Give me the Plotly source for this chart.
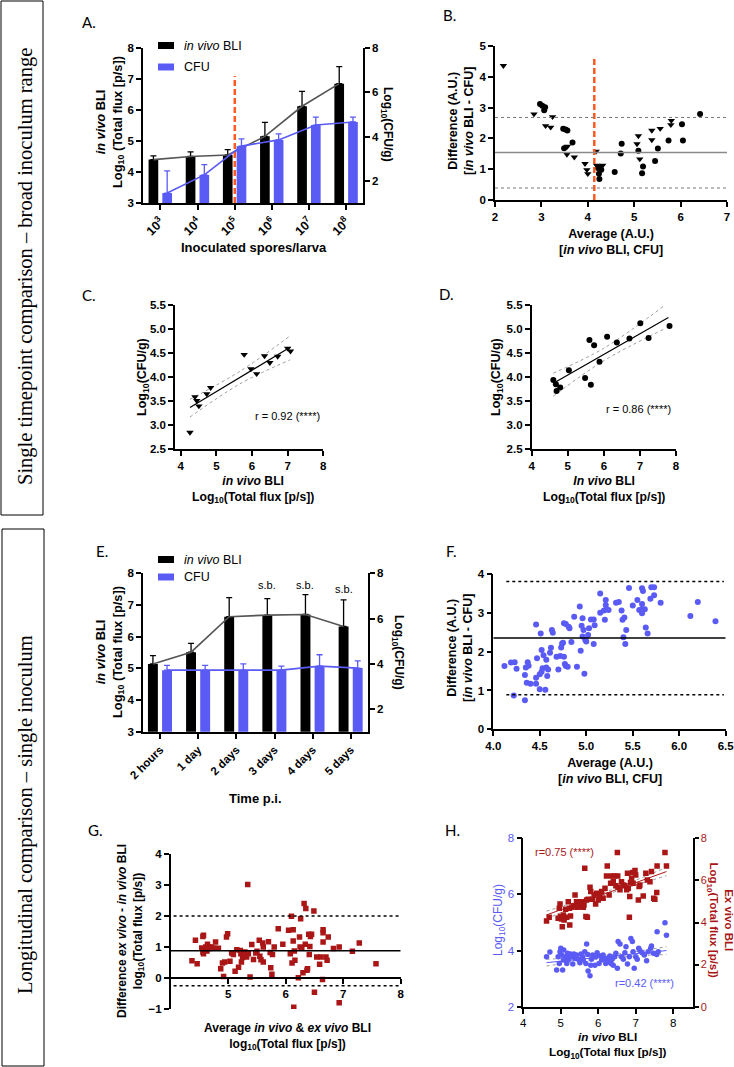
import plotly.graph_objects as go

W, H = 734, 1067
FONT = "Liberation Sans, Arial, sans-serif"
BLUE = "#5A5AF5"
RED = "#AA1616"
ORANGE = "#FF5A1F"
GRAY = "#555555"

# ---------------- DATA ----------------
# Panel A: bars per inoculum
A_categories = ["10<sup>3</sup>", "10<sup>4</sup>", "10<sup>5</sup>", "10<sup>6</sup>", "10<sup>7</sup>", "10<sup>8</sup>"]
A_bli = [4.40, 4.50, 4.55, 5.15, 6.12, 6.85]
A_bli_err = [0.12, 0.15, 0.17, 0.45, 0.48, 0.55]
A_cfu = [1.45, 2.27, 3.57, 3.85, 4.52, 4.66]
A_cfu_err = [1.00, 0.46, 0.33, 0.27, 0.36, 0.22]
A_threshold_cat = "10<sup>5</sup>"
A_threshold_top = 7.1

# Panel B: Bland-Altman, broad inoculum
B_tri_x = [2.18, 2.84, 3.09, 3.20, 3.24, 3.55, 3.56, 3.71, 3.94, 3.98, 4.00, 4.18, 4.19, 4.24, 4.28, 4.32,
           5.06, 5.09, 5.12, 5.38, 5.38, 5.56, 5.79, 5.80]
B_tri_y = [4.36, 2.79, 2.41, 2.36, 2.70, 1.48, 1.74, 1.39, 1.18, 0.98, 0.85, 1.58, 1.12, 1.05, 1.08, 1.12,
           1.82, 2.08, 1.33, 2.26, 1.95, 2.32, 2.44, 2.58]
B_circ_x = [2.97, 3.02, 3.08, 3.06, 3.47, 3.52, 3.56, 3.49, 3.67, 4.22, 4.24, 4.25, 4.29, 4.58, 4.71, 4.73,
            5.09, 5.17, 5.19, 5.45, 5.51, 5.74, 6.03, 6.05, 6.42]
B_circ_y = [3.12, 3.06, 3.01, 2.91, 2.31, 2.29, 2.26, 1.68, 1.87, 1.04, 0.85, 0.68, 0.98, 0.91, 1.51, 1.83,
            1.60, 0.87, 1.09, 1.27, 1.67, 1.93, 2.46, 1.93, 2.79]
B_bias = 1.54
B_loa = [0.39, 2.68]
B_threshold = 4.14
B_threshold_top = 4.63

# Panel C: correlation (triangles)
C_x = [4.26, 4.40, 4.45, 4.51, 4.73, 4.84, 5.78, 5.97, 6.13, 6.35, 6.50, 6.72, 7.00, 7.08]
C_y = [2.85, 3.59, 3.51, 3.40, 3.65, 3.78, 4.47, 4.17, 4.07, 4.44, 4.30, 4.43, 4.60, 4.54]
C_fit_x = [4.26, 7.07]
C_fit_y = [3.37, 4.62]
C_ci_x = [4.26, 5.66, 7.07]
C_ci_lo = [3.17, 3.86, 4.36]
C_ci_hi = [3.54, 4.12, 4.86]
C_r = "r = 0.92 (****)"

# Panel D: correlation (circles)
D_x = [4.60, 4.67, 4.69, 4.79, 5.03, 5.48, 5.60, 5.64, 5.73, 5.88, 6.09, 6.36, 6.71, 7.01, 7.24, 7.82]
D_y = [3.94, 3.85, 3.71, 3.78, 4.14, 3.98, 4.77, 3.84, 4.66, 4.32, 4.84, 4.72, 4.80, 5.12, 4.81, 5.06]
D_fit_x = [4.65, 7.79]
D_fit_y = [3.89, 5.24]
D_ci_x = [4.60, 6.00, 7.70]
D_ci_lo = [3.60, 4.34, 5.01]
D_ci_hi = [4.08, 4.60, 5.50]
D_r = "r = 0.86 (****)"

# Panel E: bars over time
E_categories = ["2 hours", "1 day", "2 days", "3 days", "4 days", "5 days"]
E_bli = [5.14, 5.51, 6.63, 6.68, 6.70, 6.32]
E_bli_err = [0.26, 0.28, 0.60, 0.52, 0.63, 0.84]
E_cfu = [3.72, 3.72, 3.72, 3.72, 3.90, 3.81]
E_cfu_err = [0.21, 0.21, 0.28, 0.18, 0.50, 0.32]
E_sb = ["", "", "", "s.b.", "s.b.", "s.b."]
E_sb_y = [0, 0, 0, 7.63, 7.63, 7.50]

# Panel F: Bland-Altman, single inoculum
F_avg = [4.12, 4.19, 4.23, 4.25, 4.22, 4.34, 4.34, 4.35, 4.37, 4.38, 4.36, 4.40, 4.46, 4.46, 4.46, 4.47,
         4.50, 4.50, 4.51, 4.52, 4.52, 4.53, 4.54, 4.56, 4.57, 4.57, 4.58, 4.59, 4.61, 4.62, 4.63, 4.64,
         4.68, 4.70, 4.72, 4.73, 4.74, 4.75, 4.76, 4.76, 4.78, 4.77, 4.78, 4.80, 4.81, 4.82, 4.84, 4.87,
         4.90, 4.93, 4.94, 4.95, 4.96, 4.96, 4.97, 4.98, 4.99, 5.00, 5.02, 5.03, 5.05, 5.08, 5.08, 5.09,
         5.15, 5.15, 5.19, 5.20, 5.21, 5.21, 5.22, 5.24, 5.32, 5.35, 5.38, 5.39, 5.40, 5.41, 5.42, 5.43,
         5.46, 5.50, 5.55, 5.57, 5.60, 5.60, 5.60, 5.60, 5.61, 5.63, 5.64, 5.66, 5.69, 5.70, 5.73, 5.73,
         5.80, 6.12, 6.20, 6.39]
F_diff = [1.63, 1.72, 1.73, 1.56, 0.87, 0.75, 1.40, 1.59, 1.73, 1.64, 1.20, 1.17, 1.17, 1.33, 2.70, 1.83,
          1.42, 1.03, 2.47, 1.48, 2.04, 1.57, 1.91, 1.02, 1.79, 1.59, 1.37, 1.54, 1.97, 2.10, 2.56, 2.49,
          1.87, 1.54, 1.89, 2.11, 2.21, 2.23, 1.87, 2.73, 2.71, 1.68, 1.63, 1.61, 2.64, 2.60, 2.25, 2.90,
          1.61, 3.16, 2.02, 2.67, 2.86, 2.39, 2.56, 1.43, 2.30, 2.26, 2.43, 2.60, 2.83, 2.83, 2.20, 2.68,
          3.50, 3.00, 3.06, 2.82, 3.33, 3.20, 3.09, 3.07, 3.26, 3.28, 3.06, 2.82, 2.37, 2.88, 2.20, 2.56,
          3.64, 3.19, 3.33, 3.07, 3.10, 2.99, 3.23, 3.63, 3.56, 3.09, 2.62, 2.47, 3.36, 3.66, 3.66, 3.45,
          3.26, 2.92, 3.28, 2.78]
F_bias = 2.35
F_loa = [0.89, 3.81]

# Panel G: Bland-Altman ex vivo vs in vivo BLI
G_avg = [4.37, 4.43, 4.46, 4.56, 4.57, 4.54, 4.56, 4.57, 4.60, 4.61, 4.63, 4.64, 4.67, 4.68, 4.71, 4.75,
         4.78, 4.83, 4.87, 4.90, 4.92, 4.94, 4.97, 4.99, 5.03, 5.06, 5.09, 5.12, 5.15, 5.18, 5.21, 5.22,
         5.23, 5.25, 5.28, 5.29, 5.32, 5.34, 5.35, 5.38, 5.41, 5.44, 5.48, 5.50, 5.54, 5.55, 5.57, 5.60,
         5.61, 5.61, 5.70, 5.73, 5.74, 5.76, 5.77, 5.80, 5.87, 5.95, 6.05, 6.08, 6.10, 6.11, 6.13, 6.13,
         6.14, 6.15, 6.16, 6.22, 6.24, 6.25, 6.26, 6.28, 6.30, 6.32, 6.34, 6.35, 6.37, 6.38, 6.40, 6.41,
         6.42, 6.43, 6.45, 6.49, 6.50, 6.54, 6.59, 6.61, 6.64, 6.65, 6.65, 6.65, 6.70, 6.72, 6.74, 6.83,
         6.93, 6.93, 7.16, 7.28, 7.57]
G_diff = [0.56, 1.22, 0.46, 1.34, 1.38, 0.97, 0.84, 0.78, 0.89, 1.00, 0.87, 1.09, 1.00, 0.95, 1.00, 0.97,
          1.16, 0.96, 0.30, 0.48, 0.05, 0.52, 1.32, 1.43, 0.54, 0.81, 0.76, 0.22, 0.91, 0.35, 0.89, 0.78,
          0.52, 0.66, 0.78, 0.84, 0.68, 3.02, 0.78, 0.03, 1.08, 0.60, 0.81, 0.86, 1.22, 0.70, 0.59, 1.13,
          0.52, 1.00, 1.17, 0.82, 0.33, 0.12, 0.76, 1.00, 1.59, 1.09, 1.54, 0.78, 1.99, 0.48, 1.19, 1.56,
          -0.94, 0.87, 0.57, 0.01, 1.32, 1.00, 1.91, 0.97, 0.17, 2.40, 1.09, 2.24, 0.25, 0.30, 1.41, 0.76,
          1.02, 1.34, 1.41, 2.16, -0.46, 0.68, 0.44, 0.68, -0.05, 1.56, 1.46, 1.16, 0.68, 0.57, 1.32, 0.95,
          -0.80, 1.00, 0.86, 1.13, 0.46]
G_bias = 0.88
G_loa = [-0.25, 2.00]

# Panel H: correlations vs in vivo BLI
H_red_x = [4.62, 4.69, 4.93, 4.96, 4.98, 4.99, 5.02, 5.04, 5.07, 5.09, 5.13, 5.16, 5.20, 5.23, 5.24, 5.26,
           5.30, 5.35, 5.38, 5.42, 5.45, 5.48, 5.51, 5.56, 5.60, 5.62, 5.64, 5.67, 5.69, 5.71, 5.73, 5.78,
           5.80, 5.84, 5.89, 5.93, 5.96, 6.00, 6.04, 6.09, 6.13, 6.18, 6.22, 6.24, 6.29, 6.33, 6.36, 6.40,
           6.43, 6.47, 6.51, 6.52, 6.53, 6.58, 6.62, 6.67, 6.71, 6.76, 6.78, 6.80, 6.83, 6.84, 6.86, 6.89,
           6.92, 6.93, 6.98, 7.00, 7.07, 7.09, 7.11, 7.20, 7.27, 7.31, 7.38, 7.42, 7.48, 7.51, 7.56, 7.57,
           7.78, 7.82]
H_exvivo = [4.07, 4.25, 4.20, 4.68, 4.88, 4.28, 4.17, 3.80, 4.36, 4.12, 4.63, 4.25, 4.99, 4.68, 3.88, 4.31,
            4.72, 4.79, 5.31, 4.99, 4.72, 4.99, 4.75, 4.99, 4.72, 4.83, 6.58, 4.28, 5.07, 4.25, 5.10, 5.67,
            5.47, 5.10, 5.31, 4.88, 5.39, 5.07, 5.26, 5.47, 5.15, 5.63, 6.21, 6.69, 5.31, 5.86, 6.21, 5.94,
            6.21, 5.74, 7.32, 6.21, 5.67, 5.55, 5.94, 5.78, 5.74, 5.55, 6.34, 5.63, 4.25, 5.23, 5.90, 6.10,
            6.37, 5.86, 6.47, 6.26, 5.07, 5.71, 5.78, 5.26, 6.34, 6.02, 5.94, 6.42, 5.15, 5.10, 5.42, 6.69,
            7.32, 6.69]
H_blue_x = [4.62, 4.71, 4.89, 4.93, 4.96, 4.98, 5.00, 5.02, 5.05, 5.07, 5.08, 5.11, 5.16, 5.18, 5.20, 5.23,
            5.26, 5.29, 5.32, 5.35, 5.38, 5.42, 5.47, 5.51, 5.54, 5.58, 5.60, 5.64, 5.67, 5.69, 5.72, 5.73,
            5.78, 5.80, 5.82, 5.85, 5.91, 5.94, 5.97, 6.02, 6.06, 6.09, 6.13, 6.17, 6.20, 6.24, 6.27, 6.31,
            6.34, 6.37, 6.40, 6.44, 6.47, 6.51, 6.53, 6.58, 6.62, 6.67, 6.71, 6.74, 6.78, 6.83, 6.87, 6.91,
            6.93, 6.96, 7.00, 7.04, 7.08, 7.11, 7.17, 7.23, 7.29, 7.33, 7.40, 7.42, 7.47, 7.56, 7.57, 7.60,
            7.78, 7.82]
H_cfu = [3.78, 3.95, 3.31, 3.78, 3.54, 3.96, 4.08, 3.84, 3.31, 3.66, 4.02, 3.78, 3.54, 3.90, 3.66, 3.78,
         3.88, 3.78, 3.52, 3.88, 3.72, 3.84, 3.69, 3.57, 3.88, 3.78, 3.66, 3.96, 3.54, 4.23, 3.86, 3.27,
         3.10, 3.48, 3.69, 3.84, 3.48, 3.78, 3.92, 3.54, 3.81, 3.66, 3.84, 3.72, 3.54, 3.72, 3.60, 3.81,
         3.54, 3.69, 3.48, 3.78, 3.90, 3.37, 4.32, 4.23, 3.78, 3.69, 3.92, 4.14, 3.52, 3.78, 4.43, 4.32,
         3.96, 3.37, 3.78, 3.69, 4.08, 4.00, 3.92, 3.84, 3.64, 3.96, 4.08, 4.16, 3.90, 3.86, 4.67, 3.96,
         4.99, 4.55]
H_fit_x = [4.62, 7.82]
H_red_fit = [4.36, 6.42]
H_blue_fit = [3.57, 4.00]
H_ci_x = [4.62, 6.20, 7.82]
H_red_ci_lo = [4.18, 5.31, 6.22]
H_red_ci_hi = [4.54, 5.45, 6.62]
H_blue_ci_lo = [3.45, 3.73, 3.86]
H_blue_ci_hi = [3.69, 3.83, 4.14]
H_r_red = "r=0.75 (****)"
H_r_blue = "r=0.42 (****)"


# ---------------- HELPERS ----------------
def dx(x0, x1):
    return [x0 / W, x1 / W]


def dy(y0, y1):
    return [1 - y1 / H, 1 - y0 / H]


def px(x):
    return x / W


def py(y):
    return 1 - y / H


TICKFONT = dict(family=FONT, size=11.5, color="black", weight="bold")
TICKFONT_R = dict(family=FONT, size=11.5, color="black")


def axis(domain, rng, anchor, **kw):
    d = dict(domain=domain, range=rng, anchor=anchor, showline=True, linecolor="black", linewidth=1.6,
             ticks="outside", ticklen=5, tickwidth=1.5, tickcolor="black", showgrid=False, zeroline=False,
             tickfont=TICKFONT, fixedrange=True, automargin=False, ticklabeloverflow="allow")
    d.update(kw)
    return d


annotations = []
shapes = []


def ann(text, x, y, size=12, angle=0, color="black", family=FONT, xanchor="center", yanchor="middle", **kw):
    annotations.append(dict(text=text, x=px(x), y=py(y), xref="paper", yref="paper", showarrow=False,
                            textangle=angle, font=dict(family=family, size=size, color=color),
                            xanchor=xanchor, yanchor=yanchor, borderpad=0, **kw))


fig = go.Figure()

# ---------------- PANEL A ----------------
idxA = list(range(len(A_categories)))
nA = len(idxA)
fig.add_trace(go.Bar(x=idxA, y=A_bli, width=0.26, offset=-0.32, marker=dict(color="black", line=dict(width=0)),
                     error_y=dict(type="data", array=A_bli_err, arrayminus=[0] * nA, symmetric=False,
                                  color="black", thickness=1.3, width=3),
                     xaxis="x", yaxis="y", showlegend=False))
fig.add_trace(go.Scatter(x=[i - 0.19 for i in idxA], y=A_bli, mode="lines", line=dict(color=GRAY, width=1.6),
                         xaxis="x", yaxis="y", showlegend=False))
thrA = A_categories.index(A_threshold_cat)
fig.add_trace(go.Scatter(x=[thrA, thrA], y=[3, A_threshold_top], mode="lines",
                         line=dict(color=ORANGE, width=2.5, dash="6px,3px"), xaxis="x", yaxis="y", showlegend=False))
fig.add_trace(go.Bar(x=idxA, y=A_cfu, width=0.26, offset=0.05, marker=dict(color=BLUE, line=dict(width=0)),
                     error_y=dict(type="data", array=A_cfu_err, arrayminus=[0] * nA, symmetric=False,
                                  color=BLUE, thickness=1.3, width=3),
                     xaxis="x", yaxis="y2", showlegend=False))
fig.add_trace(go.Scatter(x=[i + 0.18 for i in idxA], y=A_cfu, mode="lines", line=dict(color=BLUE, width=1.6),
                         xaxis="x", yaxis="y2", showlegend=False))

# ---------------- PANEL B ----------------
fig.add_trace(go.Scatter(x=B_tri_x, y=B_tri_y, mode="markers",
                         marker=dict(symbol="triangle-down", size=6.5, color="black"),
                         xaxis="x2", yaxis="y3", showlegend=False))
fig.add_trace(go.Scatter(x=B_circ_x, y=B_circ_y, mode="markers",
                         marker=dict(symbol="circle", size=6, color="black"),
                         xaxis="x2", yaxis="y3", showlegend=False))
shapes.append(dict(type="line", xref="x2", yref="y3", x0=2, x1=7, y0=B_bias, y1=B_bias,
                   line=dict(color="#8a8a8a", width=1.5)))
for v in B_loa:
    shapes.append(dict(type="line", xref="x2", yref="y3", x0=2, x1=7, y0=v, y1=v,
                       line=dict(color="#777", width=1, dash="dot")))
fig.add_trace(go.Scatter(x=[B_threshold, B_threshold], y=[0, B_threshold_top], mode="lines",
                         line=dict(color=ORANGE, width=2.5, dash="6px,3px"), xaxis="x2", yaxis="y3",
                         showlegend=False))

# ---------------- PANEL C ----------------
for lo_hi in (C_ci_lo, C_ci_hi):
    fig.add_trace(go.Scatter(x=C_ci_x, y=lo_hi, mode="lines", line=dict(color="#999", width=1, dash="dot", shape="spline"),
                             xaxis="x3", yaxis="y4", showlegend=False))
fig.add_trace(go.Scatter(x=C_fit_x, y=C_fit_y, mode="lines", line=dict(color="black", width=1.2),
                         xaxis="x3", yaxis="y4", showlegend=False))
fig.add_trace(go.Scatter(x=C_x, y=C_y, mode="markers", marker=dict(symbol="triangle-down", size=6.5, color="black"),
                         xaxis="x3", yaxis="y4", showlegend=False))

# ---------------- PANEL D ----------------
for lo_hi in (D_ci_lo, D_ci_hi):
    fig.add_trace(go.Scatter(x=D_ci_x, y=lo_hi, mode="lines", line=dict(color="#999", width=1, dash="dot", shape="spline"),
                             xaxis="x4", yaxis="y5", showlegend=False))
fig.add_trace(go.Scatter(x=D_fit_x, y=D_fit_y, mode="lines", line=dict(color="black", width=1.2),
                         xaxis="x4", yaxis="y5", showlegend=False))
fig.add_trace(go.Scatter(x=D_x, y=D_y, mode="markers", marker=dict(symbol="circle", size=6, color="black"),
                         xaxis="x4", yaxis="y5", showlegend=False))

# ---------------- PANEL E ----------------
idxE = list(range(len(E_categories)))
nE = len(idxE)
fig.add_trace(go.Bar(x=idxE, y=E_bli, width=0.26, offset=-0.32, marker=dict(color="black", line=dict(width=0)),
                     error_y=dict(type="data", array=E_bli_err, arrayminus=[0] * nE, symmetric=False,
                                  color="black", thickness=1.3, width=3),
                     xaxis="x5", yaxis="y6", showlegend=False))
fig.add_trace(go.Scatter(x=[i - 0.19 for i in idxE], y=E_bli, mode="lines", line=dict(color=GRAY, width=1.6),
                         xaxis="x5", yaxis="y6", showlegend=False))
fig.add_trace(go.Bar(x=idxE, y=E_cfu, width=0.26, offset=0.05, marker=dict(color=BLUE, line=dict(width=0)),
                     error_y=dict(type="data", array=E_cfu_err, arrayminus=[0] * nE, symmetric=False,
                                  color=BLUE, thickness=1.3, width=3),
                     xaxis="x5", yaxis="y7", showlegend=False))
fig.add_trace(go.Scatter(x=[i + 0.18 for i in idxE], y=E_cfu, mode="lines", line=dict(color=BLUE, width=1.6),
                         xaxis="x5", yaxis="y7", showlegend=False))
for i, (t, yv) in enumerate(zip(E_sb, E_sb_y)):
    if t:
        annotations.append(dict(text=t, x=i - 0.19, y=yv, xref="x5", yref="y6", showarrow=False,
                                font=dict(family=FONT, size=11, color="black"), yanchor="middle"))

# ---------------- PANEL F ----------------
shapes.append(dict(type="line", xref="x6", yref="y8", x0=4, x1=6.5, y0=F_bias, y1=F_bias,
                   line=dict(color="black", width=1.5)))
for v in F_loa:
    shapes.append(dict(type="line", xref="x6", yref="y8", x0=4.14, x1=6.48, y0=v, y1=v,
                       line=dict(color="black", width=1.5, dash="dot")))
fig.add_trace(go.Scatter(x=F_avg, y=F_diff, mode="markers", marker=dict(symbol="circle", size=6, color=BLUE),
                         xaxis="x6", yaxis="y8", showlegend=False))

# ---------------- PANEL G ----------------
shapes.append(dict(type="line", xref="x7", yref="y9", x0=4, x1=8, y0=G_bias, y1=G_bias,
                   line=dict(color="black", width=1.5)))
for v in G_loa:
    shapes.append(dict(type="line", xref="x7", yref="y9", x0=4.05, x1=8, y0=v, y1=v,
                       line=dict(color="black", width=1.5, dash="dot")))
fig.add_trace(go.Scatter(x=G_avg, y=G_diff, mode="markers", marker=dict(symbol="square", size=5.5, color=RED),
                         xaxis="x7", yaxis="y9", showlegend=False))

# ---------------- PANEL H ----------------
for lo_hi in (H_blue_ci_lo, H_blue_ci_hi):
    fig.add_trace(go.Scatter(x=H_ci_x, y=lo_hi, mode="lines", line=dict(color="#999", width=1, dash="dot", shape="spline"),
                             xaxis="x8", yaxis="y10", showlegend=False))
fig.add_trace(go.Scatter(x=H_fit_x, y=H_blue_fit, mode="lines", line=dict(color=BLUE, width=1),
                         xaxis="x8", yaxis="y10", showlegend=False))
fig.add_trace(go.Scatter(x=H_blue_x, y=H_cfu, mode="markers", marker=dict(symbol="circle", size=5.5, color=BLUE),
                         xaxis="x8", yaxis="y10", showlegend=False))
for lo_hi in (H_red_ci_lo, H_red_ci_hi):
    fig.add_trace(go.Scatter(x=H_ci_x, y=lo_hi, mode="lines", line=dict(color="#999", width=1, dash="dot", shape="spline"),
                             xaxis="x8", yaxis="y11", showlegend=False))
fig.add_trace(go.Scatter(x=H_fit_x, y=H_red_fit, mode="lines", line=dict(color=RED, width=1),
                         xaxis="x8", yaxis="y11", showlegend=False))
fig.add_trace(go.Scatter(x=H_red_x, y=H_exvivo, mode="markers", marker=dict(symbol="square", size=5.5, color=RED),
                         xaxis="x8", yaxis="y11", showlegend=False))

# ---------------- AXES ----------------
layout_axes = dict(
    xaxis=axis(dx(143, 363), [-0.47, 5.45], "y", tickvals=idxA, ticktext=A_categories, tickangle=-45,
               tickfont=dict(family=FONT, size=12.5, color="black", weight="bold")),
    yaxis=axis(dy(48, 203), [3, 8], "x", dtick=1),
    yaxis2=axis(None, [1.0, 8], "x", overlaying="y", side="right", tickvals=[2, 4, 6, 8]),
    xaxis2=axis(dx(495, 727), [2, 7], "y3", dtick=1),
    yaxis3=axis(dy(46, 200), [0, 5], "x2", dtick=1),
    xaxis3=axis(dx(175, 323.3), [3.84, 8], "y4", tickvals=[4, 5, 6, 7, 8]),
    yaxis4=axis(dy(305, 449.3), [2.5, 5.5], "x3", dtick=0.5, tickformat=".1f"),
    xaxis4=axis(dx(531.7, 676), [4, 8], "y5", dtick=1),
    yaxis5=axis(dy(305, 449), [2.5, 5.5], "x4", dtick=0.5, tickformat=".1f"),
    xaxis5=axis(dx(143, 368), [-0.45, 5.45], "y6", tickvals=idxE, ticktext=E_categories, tickangle=-45),
    yaxis6=axis(dy(573.3, 731.7), [3, 8], "x5", dtick=1),
    yaxis7=axis(None, [1.0, 8], "x5", overlaying="y6", side="right", tickvals=[2, 4, 6, 8]),
    xaxis6=axis(dx(493.3, 725.7), [4, 6.5], "y8", dtick=0.5, tickformat=".1f"),
    yaxis8=axis(dy(574, 729.3), [0, 4], "x6", dtick=1),
    xaxis7=axis(dx(170.7, 400.7), [4, 8], "free", position=py(978), tickvals=[5, 6, 7, 8]),
    yaxis9=axis(dy(854, 1009), [-1, 4], "x7", dtick=1),
    xaxis8=axis(dx(523.3, 692.7), [4, 8.52], "y10", tickvals=[4, 5, 6, 7, 8], tickfont=TICKFONT_R),
    yaxis10=axis(dy(838.3, 1006.7), [2, 8], "x8", tickvals=[2, 4, 6, 8],
                 tickfont=dict(family=FONT, size=11.5, color=BLUE)),
    yaxis11=axis(None, [0, 8], "x8", overlaying="y10", side="right", tickvals=[0, 2, 4, 6, 8],
                 ticklen=4, tickfont=dict(family=FONT, size=11, color=RED)),
)
for k, v in layout_axes.items():
    if v.get("domain") is None:
        v.pop("domain")

# ---------------- TEXT ----------------
LBL = dict(family="Lato, Open Sans, sans-serif", size=15)
for t, x, y in [("A.", 89, 22), ("B.", 450, 15), ("C.", 89, 295), ("D.", 446, 294),
                ("E.", 102, 551), ("F.", 451, 551), ("G.", 95, 830), ("H.", 452, 830)]:
    ann(t, x, y, size=LBL["size"], family=LBL["family"])

BLI_T = "<b><i>in vivo</i> BLI<br>Log<sub>10</sub> (Total flux [p/s])</b>"
# A
ann(BLI_T, 109, 122, size=12.8, angle=-90)
ann("<b>Log<sub>10</sub>(CFU/g)</b>", 387, 125, size=12, angle=90)
ann("<b>Inoculated spores/larva</b>", 254, 247, size=13)
# B
ann("<b>Difference (A.U.)<br>[<i>in vivo</i> BLI - CFU]</b>", 461, 121, size=12.5, angle=-90)
ann("<b>Average (A.U.)<br>[<i>in vivo</i> BLI, CFU]</b>", 611, 242, size=12.5)
# C
ann("<b>Log<sub>10</sub>(CFU/g)</b>", 143, 377, size=12.5, angle=-90)
ann("<b><i>in vivo</i> BLI<br>Log<sub>10</sub>(Total flux [p/s])</b>", 253, 490, size=12.2)
ann(C_r, 287, 416, size=11)
# D
ann("<b>Log<sub>10</sub>(CFU/g)</b>", 497, 377, size=12.5, angle=-90)
ann("<b><i>In vivo</i> BLI<br>Log<sub>10</sub>(Total flux [p/s])</b>", 604, 490, size=12.2)
ann(D_r, 638, 409, size=11)
# E
ann(BLI_T, 109, 652, size=12.8, angle=-90)
ann("<b>Log<sub>10</sub>(CFU/g)</b>", 398, 652, size=12, angle=90)
ann("<b>Time p.i.</b>", 255, 798, size=13)
# F
ann("<b>Difference (A.U.)<br>[<i>in vivo</i> BLI - CFU]</b>", 460, 648, size=12.5, angle=-90)
ann("<b>Average (A.U.)<br>[<i>in vivo</i> BLI, CFU]</b>", 610, 771, size=12.5)
# G
ann("<b>Difference <i>ex vivo</i> - <i>in vivo</i> BLI<br>log<sub>10</sub>(Total flux [p/s])</b>", 130, 931,
    size=12, angle=-90)
ann("<b>Average <i>in vivo</i> &amp; <i>ex vivo</i> BLI<br>log<sub>10</sub>(Total flux [p/s])</b>", 287, 1036,
    size=12)
# H
ann("Log<sub>10</sub>(CFU/g)", 499, 920, size=12, angle=-90, color=BLUE)
ann("<b>Ex vivo BLI<br>Log<sub>10</sub>(Total flux [p/s])</b>", 720.5, 920, size=11.5, angle=90, color=RED)
ann("<b><i>in vivo</i> BLI<br>Log<sub>10</sub>(Total flux [p/s])</b>", 607, 1045, size=11.7)
ann(H_r_red, 564, 852, size=11, color=RED)
ann(H_r_blue, 644, 983, size=11, color=BLUE)

# Legends (A and E)
for (y_blk, y_blu) in [(45.5, 67), (559.5, 577)]:
    shapes.append(dict(type="rect", xref="paper", yref="paper", x0=px(158), x1=px(174), y0=py(y_blk + 3.5),
                       y1=py(y_blk - 3.5), fillcolor="black", line=dict(width=0)))
    shapes.append(dict(type="rect", xref="paper", yref="paper", x0=px(158), x1=px(174), y0=py(y_blu + 3.5),
                       y1=py(y_blu - 3.5), fillcolor=BLUE, line=dict(width=0)))
    ann("<i>in vivo</i> BLI", 183, y_blk, size=12.5, xanchor="left")
    ann("CFU", 183, y_blu, size=12.5, xanchor="left")

# Side boxes
shapes.append(dict(type="rect", xref="paper", yref="paper", x0=px(1), x1=px(43), y0=py(515), y1=py(1),
                   line=dict(color="black", width=1)))
shapes.append(dict(type="rect", xref="paper", yref="paper", x0=px(2), x1=px(44), y0=py(1066), y1=py(529),
                   line=dict(color="black", width=1)))
ann("Single timepoint comparison – broad inoculum range", 25, 267, size=20.5, angle=-90,
    family="Liberation Serif, Times New Roman, serif")
ann("Longitudinal comparison – single inoculum", 25, 815, size=20.5, angle=-90,
    family="Liberation Serif, Times New Roman, serif")

fig.update_layout(width=W, height=H, margin=dict(l=0, r=0, t=0, b=0, pad=0), paper_bgcolor="white",
                  plot_bgcolor="white", barmode="overlay", showlegend=False, autosize=False,
                  annotations=annotations, shapes=shapes, **layout_axes)

fig.write_html("out.html", config={"displayModeBar": False, "responsive": False},
               post_script="document.body.style.margin='0px';document.body.style.padding='0px';"
                           "document.body.style.overflow='hidden';document.documentElement.style.overflow='hidden';")
